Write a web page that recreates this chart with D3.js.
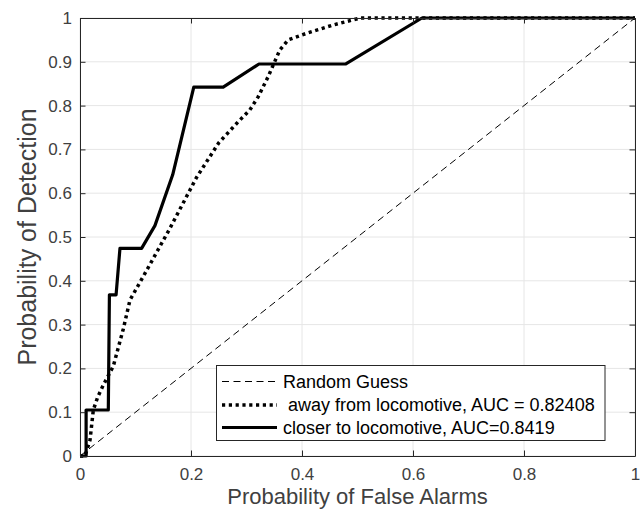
<!DOCTYPE html>
<html>
<head>
<meta charset="utf-8">
<script src="https://cdn.jsdelivr.net/npm/d3@7/dist/d3.min.js"></script>
<style>
  html, body { margin: 0; padding: 0; background: #fff; }
  svg { display: block; font-family: "Liberation Sans", Arial, Helvetica, sans-serif; }
</style>
</head>
<body>
<svg id="chart" width="640" height="516"></svg>
<script>
// ---- data ----
const xTicks = [0, 0.2, 0.4, 0.6, 0.8, 1];
const yTicks = [0, 0.1, 0.2, 0.3, 0.4, 0.5, 0.6, 0.7, 0.8, 0.9, 1];
const xTickLabels = ["0", "0.2", "0.4", "0.6", "0.8", "1"];
const yTickLabels = ["0", "0.1", "0.2", "0.3", "0.4", "0.5", "0.6", "0.7", "0.8", "0.9", "1"];

const randomFPR = [0, 1];
const randomTPR = [0, 1];

const awayFPR = [0, 0.009, 0.018, 0.024, 0.032, 0.042, 0.06, 0.078, 0.09, 0.114, 0.16, 0.21, 0.25, 0.285, 0.306, 0.321, 0.339, 0.36, 0.375, 0.408, 0.456, 0.505, 1];
const awayTPR = [0, 0, 0.036, 0.105, 0.135, 0.162, 0.205, 0.29, 0.356, 0.41, 0.515, 0.636, 0.715, 0.763, 0.79, 0.82, 0.866, 0.927, 0.95, 0.965, 0.984, 1, 1];

const closerFPR = [0, 0.011, 0.011, 0.051, 0.053, 0.065, 0.072, 0.111, 0.135, 0.167, 0.205, 0.258, 0.3225, 0.479, 0.616, 1];
const closerTPR = [0, 0, 0.105, 0.105, 0.368, 0.368, 0.474, 0.474, 0.526, 0.642, 0.842, 0.842, 0.895, 0.895, 1, 1];

const legendLabels = ["Random Guess", " away from locomotive, AUC = 0.82408", "closer to locomotive, AUC=0.8419"];
const xLabel = "Probability of False Alarms";
const yLabel = "Probability of Detection";

// ---- layout ----
const L = 80, R = 635, T = 18, B = 456;
const svg = d3.select("#chart");
const x = d3.scaleLinear().domain([0, 1]).range([L, R]);
const y = d3.scaleLinear().domain([0, 1]).range([B, T]);
const textColor = "#404040";
const axisColor = "#262626";

// grid
const grid = svg.append("g");
grid.selectAll("line.gx").data(xTicks).join("line")
  .attr("x1", d => x(d)).attr("x2", d => x(d)).attr("y1", T).attr("y2", B)
  .attr("stroke", "#e6e6e6").attr("stroke-width", 1);
grid.selectAll("line.gy").data(yTicks).join("line")
  .attr("y1", d => y(d)).attr("y2", d => y(d)).attr("x1", L).attr("x2", R)
  .attr("stroke", "#e6e6e6").attr("stroke-width", 1);

const zip = (xs, ys) => xs.map((v, i) => [v, ys[i]]);
const line = d3.line().x(d => x(d[0])).y(d => y(d[1]));

svg.append("path").datum(zip(randomFPR, randomTPR)).attr("d", line)
  .attr("fill", "none").attr("stroke", "#000").attr("stroke-width", 1)
  .attr("stroke-dasharray", "7,4.5");
svg.append("path").datum(zip(awayFPR, awayTPR)).attr("d", line)
  .attr("fill", "none").attr("stroke", "#000").attr("stroke-width", 3.5)
  .attr("stroke-dasharray", "3.2,3.6");
svg.append("path").datum(zip(closerFPR, closerTPR)).attr("d", line)
  .attr("fill", "none").attr("stroke", "#000").attr("stroke-width", 3.2)
  .attr("stroke-linejoin", "round");

// axes
const tickLen = 5.5;
const xAxisB = d3.axisBottom(x).tickValues(xTicks).tickFormat((d, i) => xTickLabels[i]).tickSizeInner(-tickLen).tickSizeOuter(0).tickPadding(14);
const xAxisT = d3.axisTop(x).tickValues(xTicks).tickFormat("").tickSizeInner(-tickLen).tickSizeOuter(0);
const yAxisL = d3.axisLeft(y).tickValues(yTicks).tickFormat((d, i) => yTickLabels[i]).tickSizeInner(-tickLen).tickSizeOuter(0).tickPadding(14);
const yAxisR = d3.axisRight(y).tickValues(yTicks).tickFormat("").tickSizeInner(-tickLen).tickSizeOuter(0);

function styleAxis(g) {
  g.select(".domain").attr("stroke", axisColor).attr("stroke-width", 1);
  g.selectAll(".tick line").attr("stroke", axisColor).attr("stroke-width", 1);
  g.selectAll(".tick text").attr("fill", textColor).attr("font-size", 17)
    .attr("font-family", "'Liberation Sans', Arial, sans-serif");
}
svg.append("g").attr("transform", `translate(0,${B})`).call(xAxisB).call(styleAxis)
  .selectAll(".tick text").attr("dy", "0.71em").attr("y", 12);
svg.append("g").attr("transform", `translate(0,${T})`).call(xAxisT).call(styleAxis);
svg.append("g").attr("transform", `translate(${L},0)`).call(yAxisL).call(styleAxis)
  .selectAll(".tick text").attr("x", -8);
svg.append("g").attr("transform", `translate(${R},0)`).call(yAxisR).call(styleAxis);

// axis labels
svg.append("text").attr("x", (L + R) / 2).attr("y", 504).attr("text-anchor", "middle")
  .attr("font-size", 22).attr("fill", textColor).text(xLabel);
svg.append("text").attr("transform", `translate(36,${(T + B) / 2}) rotate(-90)`)
  .attr("text-anchor", "middle").attr("font-size", 25).attr("fill", textColor).text(yLabel);

// legend
const lg = svg.append("g");
lg.append("rect").attr("x", 216.5).attr("y", 365.5).attr("width", 388.5).attr("height", 75)
  .attr("fill", "#fff").attr("stroke", axisColor).attr("stroke-width", 1);
const legendStyles = [
  { w: 1, dash: "7,4.5" },
  { w: 3.5, dash: "3.2,3.6" },
  { w: 3.2, dash: null }
];
const rowY = [381.5, 405, 427.5];
legendLabels.forEach((lab, i) => {
  const s = legendStyles[i];
  const ln = lg.append("line").attr("x1", 222).attr("x2", 277).attr("y1", rowY[i]).attr("y2", rowY[i])
    .attr("stroke", "#000").attr("stroke-width", s.w);
  if (s.dash) ln.attr("stroke-dasharray", s.dash);
  lg.append("text").attr("x", 283).attr("y", rowY[i]).attr("dy", "0.35em")
    .attr("font-size", 18).attr("fill", "#000").style("white-space", "pre").attr("xml:space", "preserve").text(lab);
});
</script>
</body>
</html>
